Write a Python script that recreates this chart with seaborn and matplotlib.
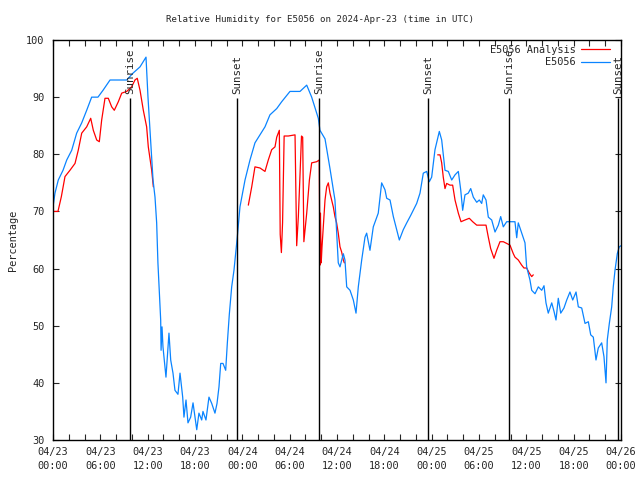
import pandas as pd
import numpy as np
import matplotlib
matplotlib.use("Agg")
import matplotlib.pyplot as plt
import matplotlib.dates as mdates
from matplotlib.lines import Line2D
import seaborn as sns

START = pd.Timestamp("2024-04-23 00:00")

# E5056 observations: hours after start, relative humidity (%)
obs_hours = [
    0.0, 0.25, 0.67, 1.27, 1.74, 2.37, 3.0, 3.64, 4.27, 4.9, 5.7, 6.34, 7.23, 9.34,
    10.14, 11.03, 11.79, 12.04, 12.3, 12.68, 12.93, 13.14, 13.3, 13.47, 13.65, 13.7,
    13.82, 13.94, 14.32, 14.7, 14.92, 15.21, 15.46, 15.84, 16.1, 16.44, 16.6, 16.86,
    17.11, 17.45, 17.75, 18.22, 18.5, 18.85, 19.01, 19.39, 19.77, 20.12, 20.53, 20.79,
    21.04, 21.26, 21.55, 21.89, 22.1, 22.35, 22.65, 22.94, 23.36, 23.7, 24.34, 24.97,
    25.6, 26.24, 26.87, 27.5, 28.36, 28.99, 30.04, 31.31, 32.16, 32.79, 33.63, 33.84,
    34.48, 35.11, 35.74, 36.16, 36.38, 36.8, 37.01, 37.23, 37.65, 38.07, 38.41, 38.7,
    39.13, 39.55, 39.76, 40.18, 40.6, 41.23, 41.66, 42.08, 42.3, 42.72, 43.14, 43.57,
    43.9, 44.4, 44.84, 45.34, 46.1, 46.52, 46.94, 47.37, 47.7, 48.0, 48.42, 48.71,
    48.97, 49.27, 49.69, 50.11, 50.54, 50.96, 51.38, 51.68, 51.93, 52.22, 52.64, 52.95,
    53.28, 53.71, 54.04, 54.34, 54.54, 54.89, 55.18, 55.61, 56.03, 56.45, 56.75, 57.08,
    57.51, 57.93, 58.56, 58.78, 58.98, 59.41, 59.83, 60.04, 60.46, 60.68, 61.1, 61.52,
    61.95, 62.24, 62.49, 62.78, 63.22, 63.51, 63.76, 64.05, 64.36, 64.77, 65.12, 65.53,
    65.88, 66.3, 66.59, 67.02, 67.44, 67.86, 68.16, 68.49, 68.83, 69.12, 69.55, 69.84,
    70.1, 70.26, 70.52, 70.82, 71.02, 71.24, 71.53, 71.78, 72.0,
]
obs_rh = [
    70.8, 73.2, 75.5, 77.2, 79.0, 80.7, 83.7, 85.5, 87.7, 90.0, 90.0, 91.2, 93.0, 93.0,
    94.2, 95.3, 97.0, 90.0, 84.0, 75.5, 72.5, 68.0, 61.0, 56.0, 51.0, 45.7,
    49.8, 46.3, 41.0, 48.7, 44.0, 41.7, 38.7, 38.0, 41.7, 37.5, 34.0, 37.0,
    33.0, 34.0, 36.5, 31.8, 34.7, 33.5, 35.0, 33.5, 37.5, 36.4, 34.7, 36.4,
    39.3, 43.4, 43.4, 42.2, 47.0, 52.0, 56.8, 59.7, 65.5, 70.8, 75.5, 79.0,
    82.0, 83.4, 84.8, 86.9, 88.0, 89.2, 91.0, 91.0, 92.1, 90.0, 86.3, 84.2,
    82.7, 77.5, 72.0, 61.0, 60.3, 62.6, 61.5, 56.8, 56.2, 54.5, 52.2, 56.8,
    61.5, 65.5, 66.2, 63.2, 67.3, 69.7, 75.0, 73.8, 72.3, 72.0, 69.1, 66.8,
    65.0, 66.8, 68.0, 69.3, 71.4, 73.2, 76.7, 77.0, 75.2, 76.0, 80.8, 82.5,
    84.0, 82.5, 77.2, 77.0, 75.5, 76.4, 77.0, 73.8, 70.2, 72.9, 73.2, 74.0,
    72.5, 71.6, 72.0, 71.4, 72.9, 72.0, 69.0, 68.5, 66.4, 67.6, 69.1, 67.3,
    68.2, 68.2, 68.2, 65.4, 68.0, 66.2, 64.5, 60.3, 58.0, 56.2, 55.6, 56.8,
    56.2, 57.0, 54.0, 52.2, 54.0, 52.5, 51.0, 54.8, 52.2, 53.1, 54.5, 55.9,
    54.5, 55.9, 53.3, 53.1, 50.4, 50.7, 48.4, 48.0, 44.0, 46.1, 47.0, 44.6,
    40.0, 47.5, 50.4, 53.3, 56.8, 59.7, 62.6, 63.8, 64.0,
]

# E5056 Analysis, three separate stretches
ana1_hours = [0.0, 0.63, 1.06, 1.52, 2.15, 2.79, 3.2, 3.64, 4.27, 4.78, 5.11, 5.54, 5.87,
              6.17, 6.59, 7.01, 7.44, 7.77, 8.28, 8.71, 9.34, 9.97, 10.39, 10.68, 11.03,
              11.45, 11.87, 12.08, 12.51, 12.72]
ana1_rh = [70.0, 70.0, 72.6, 76.1, 77.2, 78.4, 80.7, 83.7, 84.8, 86.3, 84.2, 82.5, 82.2,
           86.0, 89.8, 89.8, 88.3, 87.7, 89.2, 90.7, 91.0, 91.8, 93.0, 93.3, 91.2,
           87.7, 84.8, 81.3, 77.2, 74.3]
ana2_hours = [24.76, 25.19, 25.6, 26.24, 26.87, 27.29, 27.72, 28.14, 28.36, 28.69, 28.8,
              28.95, 29.1, 29.3, 29.83, 30.68, 30.89, 31.1, 31.3, 31.5, 31.65, 31.8,
              32.16, 32.5, 32.79, 33.42, 33.75, 33.84, 33.9, 34.0, 34.1, 34.48, 34.69,
              34.9, 35.11, 35.32, 35.53, 35.74, 35.95, 36.16, 36.38, 36.59, 36.8, 36.93]
ana2_rh = [71.1, 74.3, 77.8, 77.6, 77.0, 79.0, 80.8, 81.3, 83.0, 84.2, 66.0,
           62.8, 68.0, 83.2, 83.2, 83.4, 64.0, 69.1, 76.0, 83.2, 83.0, 64.7,
           69.7, 75.5, 78.5, 78.7, 79.0, 60.6, 69.7, 61.0, 63.8, 72.0, 74.3,
           75.0, 73.2, 72.0, 70.8, 69.1, 68.0, 66.2, 63.8, 62.9, 61.5, 61.0]
ana3_hours = [48.76, 49.06, 49.27, 49.47, 49.69, 49.9, 50.32, 50.66, 50.96, 51.38, 51.72,
              52.22, 52.77, 53.2, 53.71, 54.89, 55.18, 55.48, 55.9, 56.24, 56.66, 57.08,
              57.51, 57.93, 58.35, 58.56, 58.98, 59.41, 59.7, 60.04, 60.38, 60.68, 60.88]
ana3_rh = [79.9, 79.9, 78.5, 76.0, 74.0, 74.9, 74.6, 74.6, 72.0, 69.7, 68.2,
           68.5, 68.8, 68.2, 67.6, 67.6, 65.5, 63.5, 61.8, 63.2, 64.7, 64.7,
           64.4, 64.1, 62.6, 62.0, 61.5, 60.6, 60.1, 60.1, 59.2, 58.6, 58.9]

sun_times = ["2024-04-23 09:46", "2024-04-23 23:19", "2024-04-24 09:43",
             "2024-04-24 23:32", "2024-04-25 09:48", "2024-04-25 23:36"]
sun_labels = ["Sunrise", "Sunset", "Sunrise", "Sunset", "Sunrise", "Sunset"]

BLUE = "#0a84ff"
RED = "#ff0000"
FONT = "DejaVu Sans Mono"
FS = 7.4

obs = pd.DataFrame({"time": START + pd.to_timedelta(obs_hours, unit="h"), "rh": obs_rh})
parts = []
for i, (h, v) in enumerate([(ana1_hours, ana1_rh), (ana2_hours, ana2_rh), (ana3_hours, ana3_rh)]):
    parts.append(pd.DataFrame({"time": START + pd.to_timedelta(h, unit="h"), "rh": v, "seg": i}))
ana = pd.concat(parts, ignore_index=True)

sns.set_style("ticks")
plt.rcParams["font.family"] = [FONT, "DejaVu Sans"]
plt.rcParams["font.size"] = FS

fig = plt.figure(figsize=(6.4, 4.8), dpi=100)
ax = fig.add_axes([53 / 640, 40 / 480, 568 / 640, 400 / 480])

sns.lineplot(data=ana, x="time", y="rh", units="seg", estimator=None, sort=False,
             color=RED, linewidth=0.9, ax=ax)
sns.lineplot(data=obs, x="time", y="rh", estimator=None, sort=False,
             color=BLUE, linewidth=0.9, ax=ax)

# sunrise / sunset markers
for t, lab in zip(sun_times, sun_labels):
    tt = pd.Timestamp(t)
    ax.vlines(tt, 30, 89.8, color="black", linewidth=1.0)
    ax.text(tt, 90.5, lab, rotation=90, ha="center", va="bottom", fontsize=FS + 0.4)

ax.set_xlim(START, START + pd.Timedelta(hours=72))
ax.set_ylim(30, 100)
ax.set_yticks(np.arange(30, 101, 10))
ax.xaxis.set_major_locator(mdates.HourLocator(byhour=[0, 6, 12, 18]))
ax.xaxis.set_major_formatter(mdates.DateFormatter("%m/%d\n%H:%M"))
ax.xaxis.set_minor_locator(mdates.HourLocator(byhour=range(0, 24, 2)))
ax.tick_params(which="both", direction="in", top=True, right=True, length=4,
               width=0.8, labelsize=FS)
ax.tick_params(axis="x", pad=5)
ax.tick_params(axis="y", pad=6)
for lbl in ax.get_xticklabels():
    lbl.set_linespacing(1.45)
for s in ax.spines.values():
    s.set_linewidth(1.0)
    s.set_color("black")

ax.set_xlabel("")
ax.set_ylabel("Percentage", fontsize=FS, labelpad=6)
fig.text(0.5, 1 - 19 / 480, "Relative Humidity for E5056 on 2024-Apr-23 (time in UTC)",
         ha="center", va="center", fontsize=6.6)

handles = [Line2D([], [], color=RED, linewidth=0.9), Line2D([], [], color=BLUE, linewidth=0.9)]
ax.legend(handles, ["E5056 Analysis", "E5056"], loc="upper right",
          bbox_to_anchor=(1 - 6 / 568, 1.0), frameon=False,
          markerfirst=False, handlelength=2.9, handletextpad=0.5, labelspacing=0.25,
          borderaxespad=0.05, fontsize=FS)

fig.savefig("out.png", dpi=100)
plt.close(fig)
